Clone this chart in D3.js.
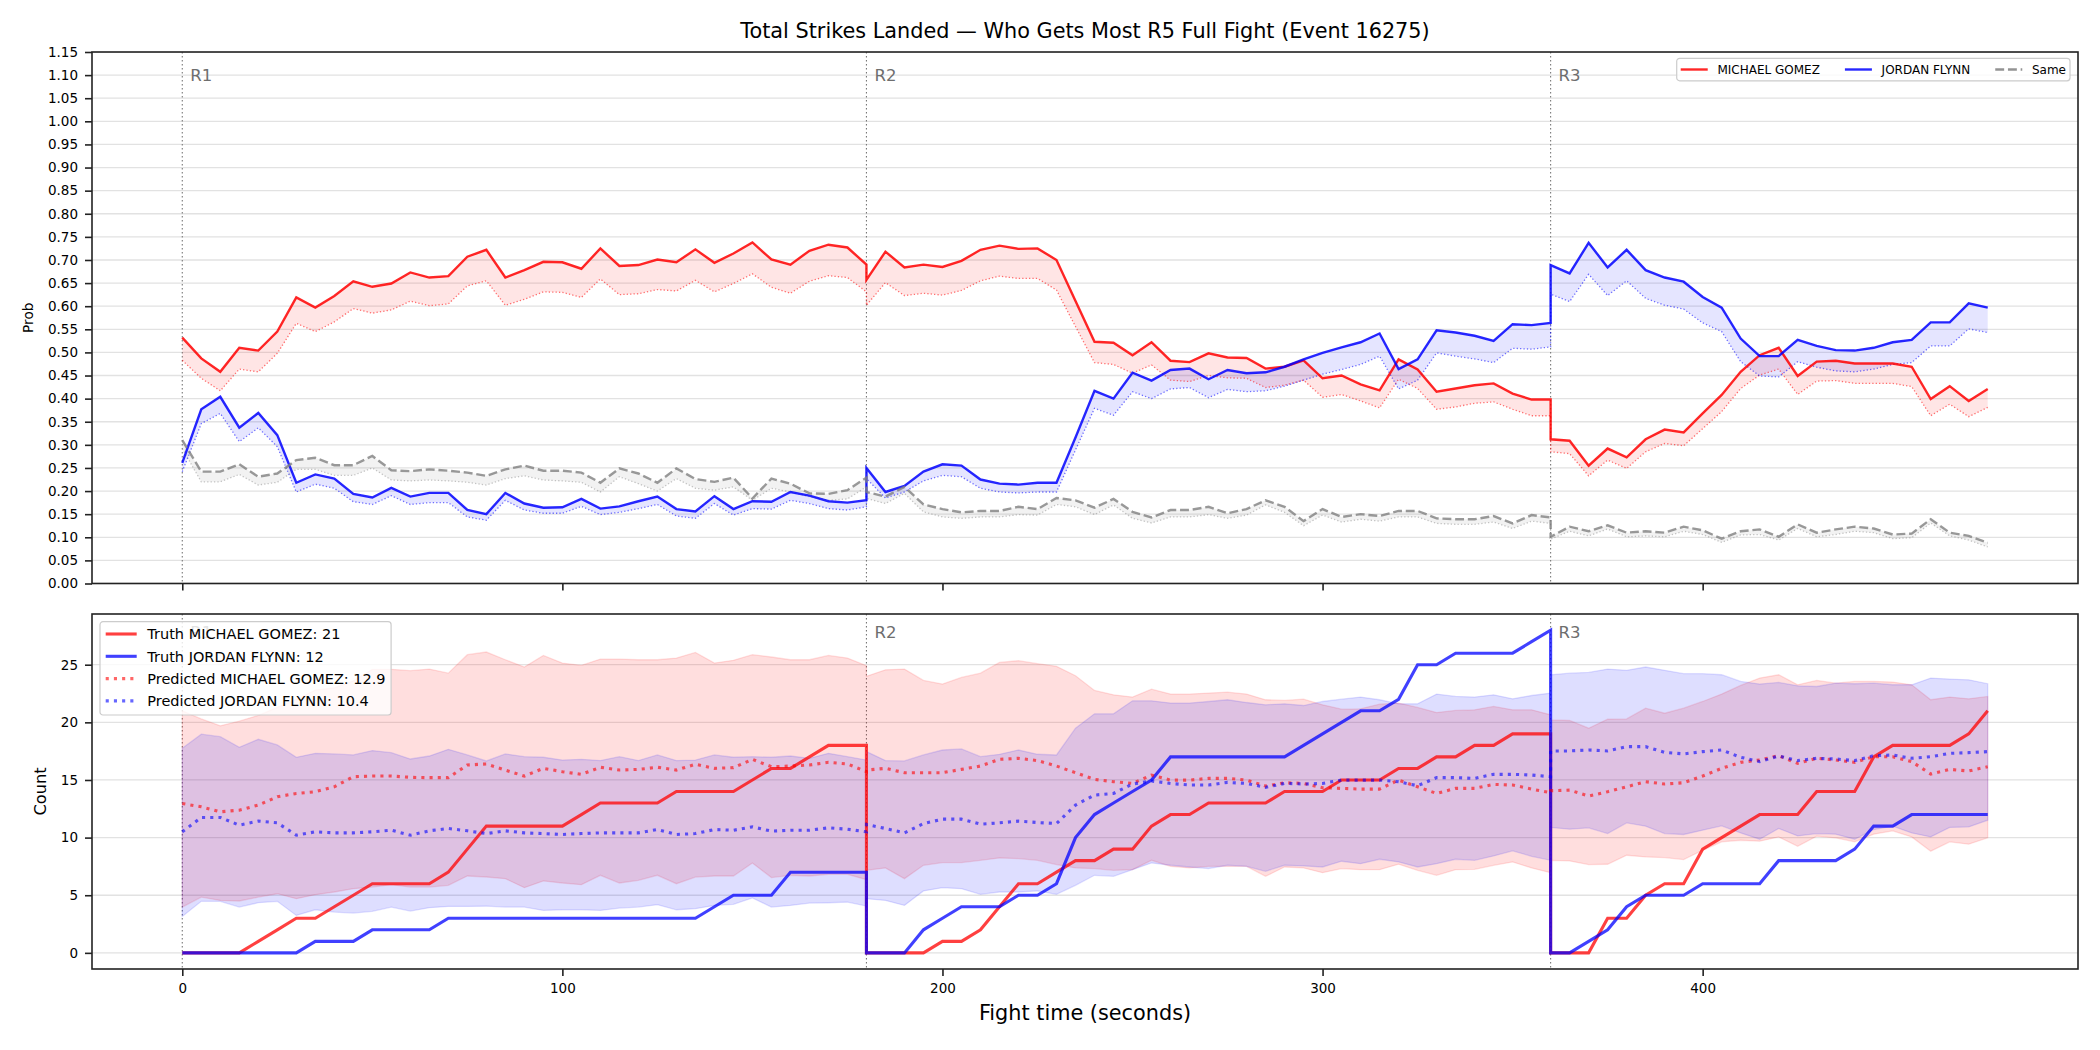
<!DOCTYPE html>
<html>
<head>
<meta charset="utf-8">
<script src="https://cdn.jsdelivr.net/npm/d3@7"></script>
<style>
    body { margin: 0; background: #fff; }
    svg { display: block; }
</style>
</head>
<body>
<svg id="chart"></svg>
<script>
const roundStarts = [0, 180, 360];
const roundEnds = [180, 360, 475];
const roundLabels = ['R1', 'R2', 'R3'];
const fighters = ['MICHAEL GOMEZ', 'JORDAN FLYNN'];
const probTicks = d3.range(0, 24).map(i => i * 0.05);
const countTicks = [0, 5, 10, 15, 20, 25];
const timeTicks = [0, 100, 200, 300, 400];

// sample every 5 s, each round restarts at its boundary
const times = roundStarts.flatMap((s, i) => d3.range(s, roundEnds[i] + 1, 5));

// top panel: probability of who lands more strikes (solid) and lower estimate (dotted)
const probGomez = [
    0.532, 0.487, 0.458, 0.510, 0.504, 0.545, 0.619, 0.597, 0.622, 0.654, 0.642, 0.649, 0.673, 0.662, 0.665, 0.707, 0.722, 0.662, 0.678, 0.696, 0.695, 0.681, 0.725, 0.687, 0.689, 0.701, 0.695, 0.723, 0.694, 0.714, 0.738, 0.701, 0.690, 0.720, 0.733, 0.727, 0.690,
    0.657, 0.718, 0.684, 0.690, 0.685, 0.698, 0.722, 0.731, 0.724, 0.725, 0.700, 0.611, 0.523, 0.521, 0.494, 0.522, 0.482, 0.479, 0.498, 0.489, 0.488, 0.465, 0.469, 0.483, 0.444, 0.450, 0.431, 0.418, 0.485, 0.463, 0.415, 0.422, 0.429, 0.433, 0.411, 0.398, 0.398,
    0.312, 0.309, 0.255, 0.292, 0.273, 0.312, 0.333, 0.327, 0.368, 0.408, 0.458, 0.494, 0.510, 0.449, 0.480, 0.482, 0.476, 0.476, 0.476, 0.469, 0.399, 0.427, 0.395, 0.421,
];
const probGomezLow = [
    0.483, 0.444, 0.417, 0.464, 0.458, 0.498, 0.563, 0.545, 0.566, 0.595, 0.585, 0.592, 0.611, 0.601, 0.605, 0.644, 0.655, 0.602, 0.615, 0.631, 0.630, 0.619, 0.659, 0.625, 0.627, 0.636, 0.633, 0.656, 0.631, 0.649, 0.670, 0.641, 0.628, 0.654, 0.666, 0.662, 0.631,
    0.602, 0.651, 0.623, 0.628, 0.624, 0.634, 0.655, 0.665, 0.660, 0.660, 0.635, 0.556, 0.478, 0.474, 0.455, 0.473, 0.440, 0.437, 0.450, 0.445, 0.444, 0.424, 0.429, 0.440, 0.403, 0.409, 0.395, 0.380, 0.442, 0.422, 0.377, 0.382, 0.390, 0.393, 0.377, 0.363, 0.363,
    0.285, 0.281, 0.233, 0.267, 0.249, 0.285, 0.303, 0.298, 0.335, 0.372, 0.422, 0.451, 0.464, 0.409, 0.438, 0.439, 0.433, 0.433, 0.433, 0.426, 0.363, 0.388, 0.361, 0.381,
];
const probFlynn = [
    0.261, 0.377, 0.404, 0.337, 0.369, 0.321, 0.218, 0.236, 0.227, 0.194, 0.186, 0.207, 0.188, 0.196, 0.196, 0.159, 0.150, 0.196, 0.173, 0.164, 0.165, 0.183, 0.162, 0.167, 0.178, 0.188, 0.161, 0.156, 0.189, 0.161, 0.178, 0.177, 0.198, 0.190, 0.178, 0.175, 0.180,
    0.250, 0.198, 0.211, 0.242, 0.258, 0.255, 0.225, 0.216, 0.214, 0.218, 0.218, 0.316, 0.417, 0.400, 0.456, 0.439, 0.462, 0.465, 0.442, 0.462, 0.455, 0.457, 0.469, 0.485, 0.499, 0.511, 0.522, 0.541, 0.464, 0.485, 0.548, 0.543, 0.536, 0.525, 0.561, 0.559, 0.564,
    0.689, 0.671, 0.737, 0.684, 0.722, 0.678, 0.662, 0.653, 0.620, 0.597, 0.530, 0.492, 0.492, 0.527, 0.514, 0.505, 0.504, 0.510, 0.522, 0.527, 0.565, 0.565, 0.606, 0.597,
];
const probFlynnLow = [
    0.242, 0.346, 0.368, 0.307, 0.337, 0.296, 0.198, 0.215, 0.206, 0.177, 0.171, 0.190, 0.171, 0.175, 0.175, 0.144, 0.137, 0.180, 0.159, 0.152, 0.152, 0.167, 0.149, 0.154, 0.162, 0.171, 0.146, 0.141, 0.173, 0.148, 0.162, 0.161, 0.180, 0.173, 0.162, 0.159, 0.166,
    0.227, 0.185, 0.198, 0.222, 0.234, 0.231, 0.206, 0.198, 0.196, 0.198, 0.198, 0.289, 0.379, 0.364, 0.415, 0.400, 0.421, 0.424, 0.402, 0.420, 0.415, 0.417, 0.427, 0.440, 0.453, 0.463, 0.474, 0.492, 0.421, 0.440, 0.499, 0.492, 0.486, 0.478, 0.509, 0.507, 0.512,
    0.626, 0.610, 0.669, 0.623, 0.655, 0.617, 0.602, 0.594, 0.564, 0.545, 0.480, 0.449, 0.447, 0.480, 0.468, 0.460, 0.458, 0.464, 0.474, 0.478, 0.514, 0.514, 0.551, 0.543,
];
const probSame = [
    0.310, 0.242, 0.242, 0.258, 0.231, 0.238, 0.267, 0.272, 0.256, 0.256, 0.276, 0.245, 0.243, 0.247, 0.244, 0.240, 0.233, 0.247, 0.255, 0.244, 0.244, 0.240, 0.218, 0.249, 0.238, 0.218, 0.249, 0.226, 0.220, 0.229, 0.184, 0.227, 0.216, 0.195, 0.194, 0.202, 0.229,
    0.198, 0.188, 0.209, 0.171, 0.161, 0.154, 0.157, 0.157, 0.166, 0.161, 0.185, 0.180, 0.164, 0.183, 0.155, 0.143, 0.159, 0.159, 0.166, 0.152, 0.161, 0.180, 0.166, 0.135, 0.161, 0.144, 0.150, 0.146, 0.157, 0.157, 0.141, 0.139, 0.139, 0.146, 0.130, 0.148, 0.143,
    0.101, 0.123, 0.113, 0.126, 0.110, 0.113, 0.110, 0.123, 0.115, 0.097, 0.113, 0.117, 0.101, 0.128, 0.110, 0.117, 0.123, 0.119, 0.106, 0.108, 0.139, 0.110, 0.103, 0.088,
];
const probSameLow = [
    0.292, 0.220, 0.220, 0.236, 0.213, 0.219, 0.247, 0.247, 0.234, 0.234, 0.250, 0.224, 0.222, 0.224, 0.222, 0.219, 0.213, 0.227, 0.233, 0.224, 0.222, 0.219, 0.198, 0.231, 0.216, 0.200, 0.227, 0.206, 0.202, 0.209, 0.180, 0.206, 0.198, 0.188, 0.180, 0.183, 0.209,
    0.184, 0.173, 0.195, 0.155, 0.144, 0.141, 0.144, 0.144, 0.149, 0.148, 0.171, 0.166, 0.149, 0.170, 0.141, 0.131, 0.144, 0.144, 0.149, 0.141, 0.148, 0.170, 0.154, 0.125, 0.148, 0.133, 0.139, 0.135, 0.144, 0.144, 0.130, 0.128, 0.128, 0.133, 0.119, 0.135, 0.130,
    0.096, 0.113, 0.103, 0.118, 0.101, 0.103, 0.101, 0.113, 0.106, 0.089, 0.105, 0.106, 0.094, 0.119, 0.101, 0.106, 0.113, 0.110, 0.097, 0.099, 0.131, 0.103, 0.094, 0.079,
];

// bottom panel: landed strikes per round, truth vs prediction with band
const truthGomez = [
    0, 0, 0, 0, 1, 2, 3, 3, 4, 5, 6, 6, 6, 6, 7, 9, 11, 11, 11, 11, 11, 12, 13, 13, 13, 13, 14, 14, 14, 14, 15, 16, 16, 17, 18, 18, 18,
    0, 0, 0, 0, 1, 1, 2, 4, 6, 6, 7, 8, 8, 9, 9, 11, 12, 12, 13, 13, 13, 13, 14, 14, 14, 15, 15, 15, 16, 16, 17, 17, 18, 18, 19, 19, 19,
    0, 0, 0, 3, 3, 5, 6, 6, 9, 10, 11, 12, 12, 12, 14, 14, 14, 17, 18, 18, 18, 18, 19, 21,
];
const truthFlynn = [
    0, 0, 0, 0, 0, 0, 0, 1, 1, 1, 2, 2, 2, 2, 3, 3, 3, 3, 3, 3, 3, 3, 3, 3, 3, 3, 3, 3, 4, 5, 5, 5, 7, 7, 7, 7, 7,
    0, 0, 0, 2, 3, 4, 4, 4, 5, 5, 6, 10, 12, 13, 14, 15, 17, 17, 17, 17, 17, 17, 17, 18, 19, 20, 21, 21, 22, 25, 25, 26, 26, 26, 26, 27, 28,
    0, 0, 1, 2, 4, 5, 5, 5, 6, 6, 6, 6, 8, 8, 8, 8, 9, 11, 11, 12, 12, 12, 12, 12,
];
const predGomez = [
    12.96, 12.67, 12.24, 12.38, 12.82, 13.54, 13.83, 13.98, 14.41, 15.28, 15.34, 15.34, 15.23, 15.20, 15.20, 16.30, 16.39, 15.86, 15.34, 16.01, 15.72, 15.49, 16.10, 15.86, 15.92, 16.10, 15.86, 16.36, 16.01, 16.07, 16.79, 16.15, 16.21, 16.30, 16.53, 16.39, 15.72,
    15.86, 16.01, 15.63, 15.63, 15.63, 15.92, 16.21, 16.79, 16.88, 16.68, 16.21, 15.63, 15.05, 14.85, 14.70, 15.43, 14.99, 14.99, 15.14, 15.14, 14.99, 14.47, 14.76, 14.70, 14.33, 14.27, 14.21, 14.21, 14.99, 14.41, 13.83, 14.27, 14.27, 14.62, 14.56, 14.21, 13.89,
    14.07, 14.12, 13.60, 13.98, 14.41, 14.85, 14.65, 14.76, 15.34, 16.01, 16.53, 16.73, 17.11, 16.44, 16.88, 16.73, 16.53, 17.02, 17.02, 16.59, 15.52, 15.92, 15.78, 16.15,
];
const predFlynn = [
    10.50, 11.75, 11.75, 11.08, 11.43, 11.28, 10.21, 10.50, 10.41, 10.41, 10.50, 10.64, 10.21, 10.59, 10.79, 10.59, 10.35, 10.59, 10.41, 10.35, 10.27, 10.35, 10.41, 10.41, 10.41, 10.70, 10.27, 10.35, 10.70, 10.64, 10.93, 10.56, 10.64, 10.64, 10.85, 10.73, 10.50,
    11.14, 10.79, 10.41, 11.22, 11.60, 11.60, 11.17, 11.28, 11.43, 11.31, 11.22, 12.82, 13.69, 13.83, 14.65, 14.91, 14.70, 14.56, 14.56, 14.79, 14.70, 14.36, 14.70, 14.65, 14.70, 14.99, 14.99, 14.99, 14.85, 14.50, 15.20, 15.20, 15.14, 15.49, 15.49, 15.43, 15.28,
    17.52, 17.52, 17.60, 17.52, 17.89, 17.89, 17.40, 17.26, 17.46, 17.60, 16.97, 16.59, 17.08, 16.68, 16.88, 16.82, 16.68, 17.11, 17.17, 16.88, 17.02, 17.31, 17.37, 17.46,
];
const gomezHi = [
    21.0, 20.3, 19.7, 20.1, 20.6, 21.3, 22.0, 22.8, 23.0, 23.6, 24.6, 24.6, 24.48, 24.62, 24.27, 25.87, 26.10, 25.43, 24.8, 25.81, 25.14, 24.94, 25.49, 25.49, 25.43, 25.43, 25.58, 26.07, 25.14, 25.38, 25.87, 25.67, 25.43, 25.43, 25.81, 25.58, 24.91,
    23.99, 24.56, 24.62, 23.64, 23.32, 23.90, 24.27, 25.20, 25.35, 25.09, 24.86, 24.04, 22.77, 22.39, 22.19, 22.88, 22.45, 22.45, 22.54, 22.62, 22.45, 21.96, 21.90, 22.01, 21.52, 21.14, 21.17, 21.58, 21.67, 21.29, 20.85, 21.03, 21.09, 21.38, 21.09, 21.09, 20.65,
    20.21, 20.16, 19.49, 20.27, 20.30, 21.23, 20.79, 21.23, 21.81, 22.45, 23.20, 23.84, 24.13, 23.26, 23.64, 23.40, 23.55, 23.55, 23.49, 23.26, 21.96, 22.19, 22.04, 22.25,
];
const gomezLo = [
    3.97, 4.84, 4.55, 4.50, 4.84, 5.13, 4.70, 5.05, 5.28, 5.57, 5.71, 5.92, 5.71, 5.71, 5.86, 6.67, 6.58, 6.44, 5.66, 6.24, 6.06, 5.92, 6.73, 6.06, 6.29, 6.73, 6.00, 6.58, 6.67, 6.67, 7.80, 6.53, 6.73, 6.67, 6.82, 6.82, 6.35,
    7.16, 7.37, 6.44, 7.60, 7.83, 7.83, 8.03, 8.24, 8.18, 8.03, 7.66, 7.37, 7.31, 7.16, 7.22, 8.03, 7.51, 7.37, 7.51, 7.51, 7.51, 6.64, 7.45, 7.37, 6.96, 7.31, 7.22, 7.22, 7.69, 7.16, 6.73, 7.22, 7.25, 7.60, 7.89, 7.37, 6.96,
    8.03, 7.98, 7.66, 7.69, 8.47, 8.32, 8.27, 8.09, 8.90, 9.63, 9.77, 9.69, 10.06, 9.25, 10.12, 9.98, 9.63, 10.30, 10.59, 10.06, 8.82, 9.63, 9.43, 9.98,
];
const flynnHi = [
    17.75, 18.97, 18.76, 17.84, 18.53, 18.04, 16.97, 17.31, 17.26, 17.17, 17.55, 17.37, 16.82, 17.08, 17.66, 17.17, 16.65, 17.26, 17.02, 16.97, 16.73, 16.79, 16.68, 17.02, 16.68, 17.17, 16.68, 16.73, 17.17, 16.97, 17.02, 16.97, 17.08, 16.88, 17.31, 17.02, 16.73,
    17.46, 16.68, 16.65, 17.17, 17.60, 17.69, 17.02, 17.23, 17.60, 17.23, 17.17, 19.49, 20.74, 20.74, 21.87, 21.87, 21.67, 21.67, 21.81, 21.96, 21.72, 21.52, 21.61, 21.46, 21.81, 22.01, 22.19, 21.96, 21.61, 21.61, 22.45, 22.25, 22.19, 22.39, 22.04, 22.33, 22.54,
    24.13, 24.27, 24.33, 24.62, 24.51, 24.80, 24.51, 24.22, 24.22, 24.13, 23.55, 23.32, 23.46, 23.17, 23.11, 23.40, 23.35, 23.40, 23.26, 23.26, 23.84, 23.75, 23.69, 23.35,
];
const flynnLo = [
    3.16, 4.47, 4.47, 3.97, 4.35, 4.47, 3.25, 3.74, 3.54, 3.45, 3.60, 3.97, 3.63, 3.92, 4.03, 4.03, 4.06, 3.97, 3.97, 3.68, 3.74, 3.74, 3.68, 3.89, 3.97, 4.18, 3.74, 3.83, 4.12, 4.21, 4.76, 3.97, 4.12, 4.32, 4.35, 4.41, 4.06,
    4.70, 4.55, 4.12, 5.37, 5.66, 5.57, 5.08, 5.28, 5.28, 5.37, 5.08, 5.86, 6.73, 6.64, 7.22, 7.80, 7.60, 7.45, 7.31, 7.60, 7.51, 7.08, 7.60, 7.54, 7.45, 7.95, 7.74, 8.12, 7.89, 7.45, 7.74, 8.12, 8.03, 8.41, 8.85, 8.38, 8.03,
    10.88, 10.73, 10.85, 10.35, 11.28, 10.99, 10.35, 10.27, 10.64, 11.02, 10.41, 9.86, 10.79, 10.15, 10.35, 10.30, 9.86, 10.70, 10.99, 10.41, 10.06, 10.88, 10.93, 11.51,
];
const countLegend = ['Truth MICHAEL GOMEZ: 21', 'Truth JORDAN FLYNN: 12', 'Predicted MICHAEL GOMEZ: 12.9', 'Predicted JORDAN FLYNN: 10.4'];

const WIDTH = 2100;
const HEIGHT = 1050;
const PLOT_LEFT = 92;
const PLOT_RIGHT = 2078;
const FONT = "'DejaVu Sans', sans-serif";
const RED = '#ff0000';
const BLUE = '#0000ff';
const GRAY = '#808080';
const INK = '#222';

const svg = d3.select('#chart')
    .attr('width', WIDTH)
    .attr('height', HEIGHT)
    .attr('font-family', FONT);

svg.append('rect').attr('width', WIDTH).attr('height', HEIGHT).attr('fill', '#fff');

const xCoord = d3.scaleLinear().domain([-23.75, 498.75]).range([PLOT_LEFT, PLOT_RIGHT]);
const yProb = d3.scaleLinear().domain([0, 1.15]).range([583.5, 52]);
const yCount = d3.scaleLinear().domain([-1.4, 29.4]).range([969, 614]);

const linePath = (yCoord, values) => d3.line()
    .x((d, i) => xCoord(times[i]))
    .y(d => yCoord(d))(values);

const areaPath = (yCoord, lo, hi) => d3.area()
    .x((d, i) => xCoord(times[i]))
    .y0(d => yCoord(d))
    .y1((d, i) => yCoord(hi[i]))(lo);

const drawPanel = (yCoord, ticks, clipId, labelOffset) => {
    const [bottom, top] = yCoord.range();
    svg.append('clipPath')
        .attr('id', clipId)
        .append('rect')
        .attr('x', PLOT_LEFT)
        .attr('y', top)
        .attr('width', PLOT_RIGHT - PLOT_LEFT)
        .attr('height', bottom - top);

    const panel = svg.append('g').attr('clip-path', `url(#${clipId})`);

    panel.append('g')
        .selectAll('line')
        .data(ticks)
        .join('line')
        .attr('x1', PLOT_LEFT)
        .attr('x2', PLOT_RIGHT)
        .attr('y1', d => yCoord(d))
        .attr('y2', d => yCoord(d))
        .attr('stroke', '#e2e2e2')
        .attr('stroke-width', 1.3);

    panel.append('g')
        .selectAll('line')
        .data(roundStarts)
        .join('line')
        .attr('x1', d => xCoord(d))
        .attr('x2', d => xCoord(d))
        .attr('y1', top)
        .attr('y2', bottom)
        .attr('stroke', '#777')
        .attr('stroke-width', 1.1)
        .attr('stroke-dasharray', '1.5,2.5');

    panel.append('g')
        .selectAll('text')
        .data(roundStarts)
        .join('text')
        .attr('x', d => xCoord(d) + 8)
        .attr('y', top + labelOffset)
        .attr('dy', '0.36em')
        .attr('font-size', 16.5)
        .attr('fill', '#6e6e6e')
        .text((d, i) => roundLabels[i]);

    return panel;
};

const drawAxes = (yCoord, ticks, format, showTimeLabels) => {
    const [bottom, top] = yCoord.range();

    const yAxis = svg.append('g')
        .attr('transform', `translate(${PLOT_LEFT}, 0)`)
        .call(d3.axisLeft(yCoord).tickValues(ticks).tickFormat(format).tickSize(7).tickPadding(7));

    const xAxis = svg.append('g')
        .attr('transform', `translate(0, ${bottom})`)
        .call(d3.axisBottom(xCoord).tickValues(timeTicks).tickSize(7).tickPadding(7));

    [yAxis, xAxis].forEach(axis => {
        axis.select('.domain').remove();
        axis.attr('font-family', FONT).attr('font-size', 13.5).attr('color', INK);
        axis.selectAll('line').attr('stroke-width', 1.6);
        axis.selectAll('text').attr('fill', '#000');
    });

    if (!showTimeLabels) {
        xAxis.selectAll('text').remove();
    }

    svg.append('rect')
        .attr('x', PLOT_LEFT)
        .attr('y', top)
        .attr('width', PLOT_RIGHT - PLOT_LEFT)
        .attr('height', bottom - top)
        .attr('fill', 'none')
        .attr('stroke', INK)
        .attr('stroke-width', 1.6);
};

// ---- top panel
const probPanel = drawPanel(yProb, probTicks, 'clip-prob', 23);

[[probGomezLow, probGomez, RED], [probFlynnLow, probFlynn, BLUE], [probSameLow, probSame, GRAY]]
    .forEach(([lo, hi, color]) => {
        probPanel.append('path')
            .attr('d', areaPath(yProb, lo, hi))
            .attr('fill', color)
            .attr('fill-opacity', 0.1);
    });

[[probGomezLow, RED], [probFlynnLow, BLUE], [probSameLow, GRAY]].forEach(([values, color]) => {
    probPanel.append('path')
        .attr('d', linePath(yProb, values))
        .attr('fill', 'none')
        .attr('stroke', color)
        .attr('stroke-opacity', color === GRAY ? 0.45 : 0.55)
        .attr('stroke-width', 1.3)
        .attr('stroke-dasharray', '1.3,2.1');
});

const probLines = [
    { values: probGomez, color: RED, dash: null },
    { values: probFlynn, color: BLUE, dash: null },
    { values: probSame, color: GRAY, dash: '8.9,3.8' },
];

probLines.forEach(({ values, color, dash }) => {
    probPanel.append('path')
        .attr('d', linePath(yProb, values))
        .attr('fill', 'none')
        .attr('stroke', color)
        .attr('stroke-opacity', color === GRAY ? 0.8 : 0.85)
        .attr('stroke-width', 2.4)
        .attr('stroke-dasharray', dash);
});

drawAxes(yProb, probTicks, d3.format('.2f'), false);

// ---- bottom panel
const countPanel = drawPanel(yCount, countTicks, 'clip-count', 18);

[[gomezLo, gomezHi, RED], [flynnLo, flynnHi, BLUE]].forEach(([lo, hi, color]) => {
    countPanel.append('path')
        .attr('d', areaPath(yCount, lo, hi))
        .attr('fill', color)
        .attr('fill-opacity', 0.13)
        .attr('stroke', color)
        .attr('stroke-opacity', 0.12)
        .attr('stroke-width', 1.3);
});

const countLines = [
    { values: truthGomez, color: RED, dash: null, opacity: 0.75 },
    { values: truthFlynn, color: BLUE, dash: null, opacity: 0.75 },
    { values: predGomez, color: RED, dash: '3.1,5.1', opacity: 0.6 },
    { values: predFlynn, color: BLUE, dash: '3.1,5.1', opacity: 0.6 },
];

countLines.forEach(({ values, color, dash, opacity }) => {
    countPanel.append('path')
        .attr('d', linePath(yCount, values))
        .attr('fill', 'none')
        .attr('stroke', color)
        .attr('stroke-opacity', opacity)
        .attr('stroke-width', 3.1)
        .attr('stroke-dasharray', dash);
});

drawAxes(yCount, countTicks, d3.format('d'), true);

// ---- legends
const probLegend = svg.append('g');
const probLegendBox = probLegend.append('rect');
let cursor = 4;
probLines.forEach(({ color, dash }, i) => {
    probLegend.append('line')
        .attr('x1', cursor)
        .attr('x2', cursor + 27)
        .attr('y1', 11.2)
        .attr('y2', 11.2)
        .attr('stroke', color)
        .attr('stroke-opacity', 0.85)
        .attr('stroke-width', 2.4)
        .attr('stroke-dasharray', dash);
    const label = probLegend.append('text')
        .attr('x', cursor + 36.7)
        .attr('y', 11.2)
        .attr('dy', '0.36em')
        .attr('font-size', 12)
        .text(i < 2 ? fighters[i] : 'Same');
    cursor += 36.7 + label.node().getComputedTextLength() + 25;
});
const probLegendWidth = cursor - 25 + 4;
probLegendBox
    .attr('width', probLegendWidth)
    .attr('height', 22.5)
    .attr('rx', 3)
    .attr('fill', '#fff')
    .attr('fill-opacity', 0.8)
    .attr('stroke', '#ccc')
    .attr('stroke-width', 1.2);
probLegend.attr('transform', `translate(${2070 - probLegendWidth}, 58.3)`);

const countLegendG = svg.append('g').attr('transform', 'translate(100, 621.7)');
const countLegendBox = countLegendG.append('rect');
let widest = 0;
countLines.forEach(({ color, dash, opacity }, i) => {
    const cy = 12.3 + i * 22.3;
    countLegendG.append('line')
        .attr('x1', 5.7)
        .attr('x2', 36.7)
        .attr('y1', cy)
        .attr('y2', cy)
        .attr('stroke', color)
        .attr('stroke-opacity', opacity)
        .attr('stroke-width', 3.1)
        .attr('stroke-dasharray', dash);
    const label = countLegendG.append('text')
        .attr('x', 47.3)
        .attr('y', cy)
        .attr('dy', '0.36em')
        .attr('font-size', 14.5)
        .text(countLegend[i]);
    widest = Math.max(widest, label.node().getComputedTextLength());
});
countLegendBox
    .attr('width', 47.3 + widest + 5.5)
    .attr('height', 93.3)
    .attr('rx', 3)
    .attr('fill', '#fff')
    .attr('fill-opacity', 0.8)
    .attr('stroke', '#ccc')
    .attr('stroke-width', 1.2);

// ---- titles and axis labels
svg.append('text')
    .attr('x', (PLOT_LEFT + PLOT_RIGHT) / 2)
    .attr('y', 38)
    .attr('text-anchor', 'middle')
    .attr('font-size', 20.8)
    .text('Total Strikes Landed — Who Gets Most R5 Full Fight (Event 16275)');

svg.append('text')
    .attr('x', (PLOT_LEFT + PLOT_RIGHT) / 2)
    .attr('y', 1020)
    .attr('text-anchor', 'middle')
    .attr('font-size', 20.8)
    .text('Fight time (seconds)');

svg.append('text')
    .attr('transform', `translate(28, ${(yProb.range()[0] + yProb.range()[1]) / 2}) rotate(-90)`)
    .attr('text-anchor', 'middle')
    .attr('dy', '0.36em')
    .attr('font-size', 13.7)
    .text('Prob');

svg.append('text')
    .attr('transform', `translate(40, ${(yCount.range()[0] + yCount.range()[1]) / 2}) rotate(-90)`)
    .attr('text-anchor', 'middle')
    .attr('dy', '0.36em')
    .attr('font-size', 16.2)
    .text('Count');
</script>
</body>
</html>
